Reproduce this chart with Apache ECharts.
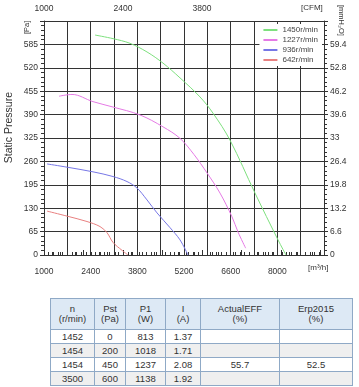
<!DOCTYPE html>
<html><head><meta charset="utf-8">
<script src="https://cdn.jsdelivr.net/npm/echarts@6/dist/echarts.min.js"></script>
<style>
html,body{margin:0;padding:0;background:#fff;width:359px;height:387px;overflow:hidden;font-family:"Liberation Sans",Arial,sans-serif;}
#c{position:absolute;left:0;top:0;width:359px;height:292px;}
#t{position:absolute;left:50px;top:298px;border-collapse:collapse;font-size:9.5px;color:#333;table-layout:fixed;}
#t td,#t th{border:1px solid #8fa9c6;text-align:center;padding:0;font-weight:normal;line-height:10px;}
#t th{background:#dde9f5;height:30px;}
#t td{height:13px;}
#t tr.g td{background:#efefef;}
</style></head><body>
<div id="c"></div>
<table id="t"></table>
<script>
// Series data [m3/h, Pa]
var n1450 = [[2530,611],[3070,601],[3580,588],[4090,564],[4570,533],[5080,492],[5680,439],[6070,394],[6580,319],[7330,172],[8020,42],[8260,0]];
var n1227 = [[1450,441],[1840,446],[2470,426],[3070,411],[3880,389],[4570,356],[5080,324],[5500,279],[5890,228],[6280,172],[6640,106],[6820,64],[7050,19]];
var n936  = [[1090,253],[1690,244],[2470,231],[3070,218],[3490,204],[3790,186],[4090,153],[4390,117],[4780,76],[5080,42],[5320,0]];
var n642  = [[1090,122],[1690,108],[2290,93],[2680,79],[2890,62],[3070,35],[3340,13],[3520,0]];
var seriesNames = ['1450r/min','1227r/min','936r/min','642r/min'];
var seriesColors = ['#7ee07e','#e57ae5','#7777e6','#e88080'];
var xTickLabels = [1000,2400,3800,5200,6600,8000];
var cfmTickLabels = [1000,2400,3800];
var paTicks = [0,65,130,195,260,325,390,455,520,585];
var mmTicks = ['0','6.6','13.2','19.8','26.4','33','39.6','46.2','52.8','59.4'];
// table
var tHeader = [['n','(r/min)'],['Pst','(Pa)'],['P1','(W)'],['I','(A)'],['ActualEFF','(%)'],['Erp2015','(%)']];
var tRows = [
 ['1452','0','813','1.37','',''],
 ['1454','200','1018','1.71','',''],
 ['1454','450','1237','2.08','55.7','52.5'],
 ['3500','600','1138','1.92','','']
];
var colW = [44,31,40,35,79,73];

var tb = document.getElementById('t');
var h = '<colgroup>'+colW.map(function(w){return '<col style="width:'+w+'px">';}).join('')+'</colgroup><tr>';
tHeader.forEach(function(c){h+='<th>'+c[0]+'<br>'+c[1]+'</th>';});
h+='</tr>';
tRows.forEach(function(r,i){h+='<tr'+(i%2?' class="g"':'')+'>'+r.map(function(v){return '<td>'+v+'</td>';}).join('')+'</tr>';});
tb.innerHTML=h;
tb.style.width = colW.reduce(function(a,b){return a+b;},0)+'px';

var chart = echarts.init(document.getElementById('c'),null,{renderer:'canvas'});
var F = '"Liberation Sans",Arial,sans-serif';
var lblStyle = {fontSize:8.5,color:'#333',fontFamily:F};
var series = [n1450,n1227,n936,n642].map(function(d,i){
  return {name:seriesNames[i],type:'line',data:d,smooth:0.35,showSymbol:false,
    lineStyle:{width:1,color:seriesColors[i]},itemStyle:{color:seriesColors[i]},xAxisIndex:0,yAxisIndex:0};
});
chart.setOption({
  animation:false,
  grid:{left:44,right:35,top:21,bottom:37,containLabel:false},
  legend:{show:true,orient:'vertical',right:37,top:24,itemWidth:14,itemHeight:2,itemGap:2,
    backgroundColor:'#fff',padding:[2,4,2,4],icon:'rect',
    textStyle:{fontSize:8,color:'#444',fontFamily:F},data:seriesNames},
  xAxis:[{type:'value',position:'bottom',min:1000,max:9400,interval:700,
    axisLine:{lineStyle:{color:'#333',width:1}},
    axisTick:{inside:true,length:3,lineStyle:{color:'#333'}},
    minorTick:{show:true,splitNumber:5,length:3,lineStyle:{color:'#333'}},
    axisLabel:Object.assign({margin:12,formatter:function(v){return xTickLabels.indexOf(v)>=0?String(v):'';}},lblStyle),
    splitLine:{show:true,lineStyle:{color:'#333',width:1}}},
   {type:'value',position:'top',min:1000,max:5960,interval:700,
    axisLine:{lineStyle:{color:'#333',width:1}},
    axisTick:{inside:false,length:5,lineStyle:{color:'#333'}},
    minorTick:{show:true,splitNumber:5,length:3,lineStyle:{color:'#333'}},
    axisLabel:Object.assign({margin:8,formatter:function(v){return cfmTickLabels.indexOf(v)>=0?String(v):'';}},lblStyle),
    splitLine:{show:false}}],
  yAxis:[{type:'value',position:'left',min:0,max:650,interval:65,
    axisLine:{show:true,lineStyle:{color:'#333',width:1}},
    axisTick:{show:true,inside:false,length:4,lineStyle:{color:'#333'}},
    minorTick:{show:true,splitNumber:5,length:3,lineStyle:{color:'#333'}},
    axisLabel:Object.assign({margin:6,formatter:function(v){return paTicks.indexOf(v)>=0?String(v):'';}},lblStyle),
    splitLine:{show:true,lineStyle:{color:'#333',width:1}}},
   {type:'value',position:'right',min:0,max:650,interval:65,
    axisLine:{show:true,lineStyle:{color:'#333',width:1}},
    axisTick:{show:true,inside:false,length:4,lineStyle:{color:'#333'}},
    minorTick:{show:true,splitNumber:5,length:3,lineStyle:{color:'#333'}},
    axisLabel:Object.assign({margin:6,formatter:function(v){var i=Math.round(v/65);return i<mmTicks.length?mmTicks[i]:'';}},lblStyle),
    splitLine:{show:false}}],
  graphic:[
    {type:'text',left:4,top:92,rotation:Math.PI/2,style:{text:'Static Pressure',fontSize:10.5,fill:'#333',font:'10.5px '+F}},
    {type:'text',x:23,y:34,rotation:Math.PI/2,style:{text:'[Pa]',font:'7.5px '+F,fill:'#333'}},
    {type:'text',x:345,y:5,rotation:-Math.PI/2,style:{text:'[mmH\u2082O]',font:'7.5px '+F,fill:'#333'}},
    {type:'text',x:301,y:4,style:{text:'[CFM]',font:'8px '+F,fill:'#333'}},
    {type:'text',x:308,y:264,style:{text:'[m\u00b3/h]',font:'8px '+F,fill:'#333'}}
  ],
  series:series
});
</script>
</body></html>
